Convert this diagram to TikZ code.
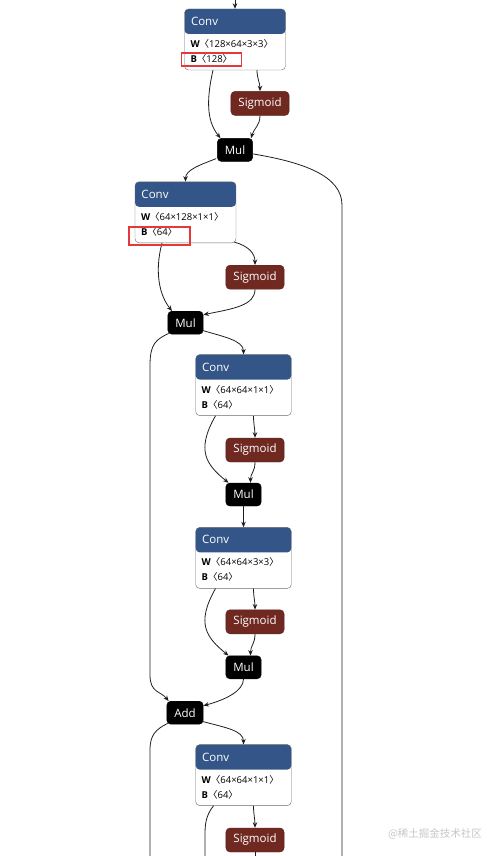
\documentclass[tikz,border=0pt]{standalone}
\usepackage{fontspec}
\setmainfont{Open Sans}
\newfontfamily\cjk{Noto Sans CJK SC}
\usepackage{tikz}
\usetikzlibrary{arrows.meta, positioning}
\definecolor{ConvBlue} {HTML}{335588}
\definecolor{SigRed}   {HTML}{702921}
\definecolor{BoxGray}  {HTML}{6A6A6A}
\definecolor{WireGray} {HTML}{1E1E1E}
\definecolor{MarkRed}  {HTML}{E5383B}
\definecolor{WmGray}   {HTML}{C6C6C6}
\newcommand{\dims}[1]{{\cjk 〈}#1{\cjk 〉}}
\newcommand{\convattr}[2]{\textbf{W}\dims{#1}\hspace*{6.5pt}\\\textbf{B}\dims{#2}}

\begin{document}
\begin{tikzpicture}[
  x=1pt, y=-1pt,
  conv/.style      = {draw=BoxGray, fill=white, rounded corners=4pt, align=left,
                      inner xsep=6pt, inner ysep=0pt,
                      text height=53.5pt, text depth=7.5pt,
                      font=\fontsize{9.5}{15}\selectfont,
                      path picture={\fill[ConvBlue] (path picture bounding box.north west)
                        rectangle ([yshift=-25pt]path picture bounding box.north east);},
                      label={[convtitle]north west:Conv}},
  convtitle/.style = {anchor=base west, xshift=6.5pt, yshift=-16.7pt, inner sep=0pt,
                      text=white, font=\fontsize{11.5}{13}\selectfont},
  sig/.style       = {fill=SigRed, draw=SigRed!80!black, rounded corners=4pt, text=white,
                      minimum height=24pt, inner xsep=7.5pt, inner ysep=0pt,
                      font=\fontsize{11.5}{13}\selectfont},
  op/.style        = {fill=black, draw=black, rounded corners=4pt, text=white,
                      minimum height=23pt, inner xsep=7.5pt, inner ysep=0pt,
                      font=\fontsize{11.5}{13}\selectfont},
  arr/.style       = {-{Stealth[length=5.5pt, width=4.5pt]}, WireGray, line width=0.8pt},
  wire/.style      = {WireGray, line width=0.8pt},
  hilite/.style    = {draw=MarkRed, line width=1.6pt},
  wm/.style        = {text=WmGray, font=\cjk\fontsize{10.5}{12}\selectfont},
]
\useasboundingbox (0,0) rectangle (497,856);
\node[conv] (c1) at (235,39.5) {\convattr{128×64×3×3}{128}};
\node[sig,  below=21pt of c1, xshift=25pt]    (s1)  {Sigmoid};
\node[op,   below=68pt of c1]                 (m1)  {Mul};
\node[conv, below=20pt of m1, xshift=-49.5pt] (c2)  {\convattr{64×128×1×1}{64}};
\node[sig,  below=22pt of c2, xshift=69.5pt]  (s2)  {Sigmoid};
\node[op,   below=68pt of c2]                 (m2)  {Mul};
\node[conv, below=20pt of m2, xshift=58pt]    (c3)  {\convattr{64×64×1×1}{64}};
\node[sig,  below=22pt of c3, xshift=11.5pt]  (s3)  {Sigmoid};
\node[op,   below=67pt of c3]                 (m3)  {Mul};
\node[conv, below=21pt of m3]                 (c4)  {\convattr{64×64×3×3}{64}};
\node[sig,  below=21pt of c4, xshift=11.5pt]  (s4)  {Sigmoid};
\node[op,   below=67pt of c4]                 (m4)  {Mul};
\node[op,   below=22pt of m4, xshift=-58.5pt] (add) {Add};
\node[conv, below=20pt of add, xshift=58.5pt] (c5)  {\convattr{64×64×1×1}{64}};
\node[sig,  below=22pt of c5, xshift=11.5pt]  (s5)  {Sigmoid};
\node[wm] (wm) at (435,834) {@稀土掘金技术社区};

\coordinate (in)   at (235,-1);
\coordinate (lane) at (150,857);
\coordinate (outR) at (342,857);
\coordinate (outC) at (205,857);
\coordinate (outS) at (255,857);

\draw[arr] (in) -- (c1);
\draw[arr] ([xshift=-22pt]c1.south) .. controls +(-8,35) and +(-12,-15) .. ([xshift=-14.5pt]m1.north);
\draw[arr] ([xshift=22pt]c1.south) .. controls +(0,8) and +(0,-8) .. (s1.north);
\draw[arr] (s1.south) .. controls +(0,10) and +(3,-10) .. ([xshift=16pt]m1.north);
\draw[arr] ([shift={(-1,-3)}]m1.south west) .. controls +(-15,6) and +(0,-12) .. (c2.north);
\draw[wire] ([shift={(0,4)}]m1.east) .. controls +(48,8) and +(0,-30) .. (outR |- 0,205) -- (outR);

\draw[arr] ([xshift=-23.5pt]c2.south) .. controls +(-8,30) and +(-12,-15) .. ([xshift=-13.5pt]m2.north);
\draw[arr] ([shift={(-2,-1)}]c2.south east) .. controls +(14,4) and +(0,-12) .. (s2.north);
\draw[arr] (s2.south) .. controls +(0,16) and +(30,-6) .. ([shift={(0,-8)}]m2.east);
\draw[arr] ([shift={(-1,-4)}]m2.south east) .. controls +(20,6) and +(0,-14) .. (c3.north);
\draw[arr] ([shift={(1,-1)}]m2.south west) .. controls +(-12,6) and +(0,-22) .. (lane |- 0,365)
  -- (lane |- 0,675) .. controls +(0,18) and +(-8,-10) .. ([shift={(2,0)}]add.north west);

\foreach \c/\s/\m in {c3/s3/m3, c4/s4/m4}{
  \draw[arr] ([xshift=-28pt]\c.south) .. controls +(-20,35) and +(-22,-18) .. ([xshift=-15pt]\m.north);
  \draw[arr] ([xshift=10pt]\c.south) .. controls +(0,8) and +(0,-8) .. (\s.north);
  \draw[arr] (\s.south) .. controls +(0,10) and +(0,-10) .. ([xshift=7pt]\m.north);
}
\draw[arr] (m3) -- (c4);
\draw[arr] (m4.south) .. controls +(0,12) and +(22,-6) .. ([shift={(0,-7)}]add.east);

\draw[arr] ([shift={(-1,-3)}]add.south east) .. controls +(22,6) and +(0,-14) .. (c5.north);
\draw[wire] ([shift={(1,-1)}]add.south west) .. controls +(-12,6) and +(0,-15) .. (lane |- 0,750) -- (lane);
\draw[wire] ([xshift=-30pt]c5.south) .. controls +(-8,10) and +(0,-10) .. (outC |- 0,835) -- (outC);
\draw[arr] ([xshift=10pt]c5.south) .. controls +(0,8) and +(0,-8) .. (s5.north);
\draw[wire] (s5.south) -- (outS);

\draw[hilite] ([shift={(-3,-17)}]c1.south west) rectangle ([shift={(57,-4)}]c1.south west);
\draw[hilite] ([shift={(-6,-16)}]c2.south west) rectangle ([shift={(55,2)}]c2.south west);
\end{tikzpicture}
\end{document}
